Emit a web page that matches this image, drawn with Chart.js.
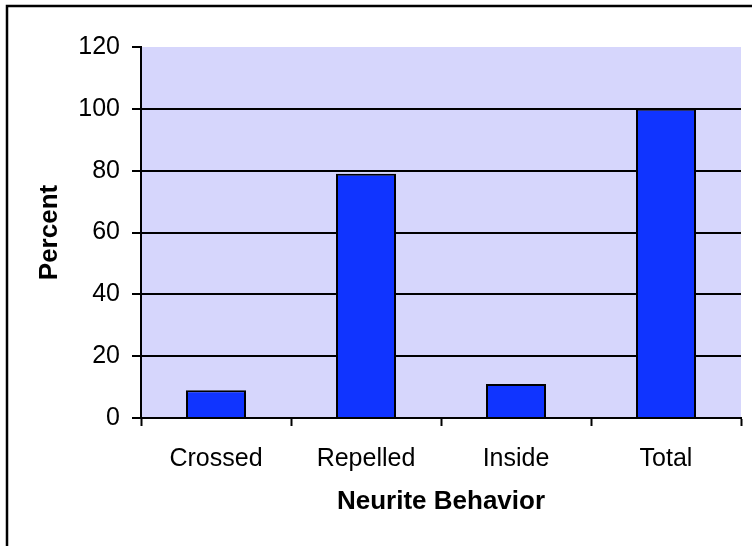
<!DOCTYPE html>
<html>
<head>
<meta charset="utf-8">
<script src="https://cdn.jsdelivr.net/npm/chart.js@4/dist/chart.umd.min.js"></script>
<style>
  html, body { margin: 0; padding: 0; background: #fff; }
  #wrap { width: 752px; height: 546px; position: relative; }
</style>
</head>
<body>
<div id="wrap"><canvas id="chart"></canvas></div>
<script>
const categories = ["Crossed", "Repelled", "Inside", "Total"];
const percentValues = [9, 79, 11, 100];
const yTicks = [0, 20, 40, 60, 80, 100, 120];

const plotBackground = {
  id: "plotBackground",
  beforeDraw(chart) {
    const { ctx, chartArea: a } = chart;
    ctx.save();
    ctx.fillStyle = "#d6d6fc";
    ctx.fillRect(a.left, a.top, a.right - a.left, a.bottom - a.top);
    // outer frame (only top and left edges show)
    ctx.strokeStyle = "#000";
    ctx.lineWidth = 2.5;
    ctx.beginPath();
    ctx.moveTo(7, 546);
    ctx.lineTo(7, 6);
    ctx.lineTo(752, 6);
    ctx.stroke();
    ctx.restore();
  }
};

const ctx = document.getElementById("chart").getContext("2d");

new Chart(ctx, {
  type: "bar",
  data: {
    labels: categories,
    datasets: [{
      label: "Percent",
      data: percentValues,
      backgroundColor: "#1034ff",
      borderColor: "#000",
      borderWidth: 2,
      barPercentage: 0.4,
      categoryPercentage: 1.0
    }]
  },
  options: {
    animation: false,
    responsive: true,
    maintainAspectRatio: false,
    layout: { padding: { top: 47, right: 11, left: 0, bottom: 0 } },
    plugins: {
      legend: { display: false },
      tooltip: { enabled: false }
    },
    scales: {
      x: {
        offset: true,
        afterFit: s => { s.height = 128; },
        border: { display: true, color: "#000", width: 2 },
        grid: {
          offset: true,
          drawOnChartArea: false,
          drawTicks: true,
          tickLength: 8,
          tickColor: "#000",
          tickWidth: 2
        },
        ticks: {
          color: "#000",
          padding: 18,
          font: { family: "'Liberation Sans', Arial, sans-serif", size: 25 }
        },
        title: {
          display: true,
          text: "Neurite Behavior",
          color: "#000",
          font: { family: "'Liberation Sans', Arial, sans-serif", size: 26, weight: "bold" },
          padding: { top: 0, bottom: 29 }
        }
      },
      y: {
        min: 0,
        max: 120,
        afterFit: s => { s.width = 141; },
        afterBuildTicks: s => { s.ticks = yTicks.map(v => ({ value: v })); },
        border: { display: true, color: "#000", width: 2 },
        grid: {
          color: c => (c.tick && c.tick.value === 120 ? "rgba(0,0,0,0)" : "#000"),
          lineWidth: 2,
          drawTicks: true,
          tickLength: 9,
          tickColor: "#000",
          tickWidth: 2
        },
        ticks: {
          color: "#000",
          padding: 12,
          font: { family: "'Liberation Sans', Arial, sans-serif", size: 25 }
        },
        title: {
          display: true,
          text: "Percent",
          color: "#000",
          font: { family: "'Liberation Sans', Arial, sans-serif", size: 26, weight: "bold" },
          padding: { top: 34, bottom: 0 }
        }
      }
    }
  },
  plugins: [plotBackground]
});
</script>
</body>
</html>
